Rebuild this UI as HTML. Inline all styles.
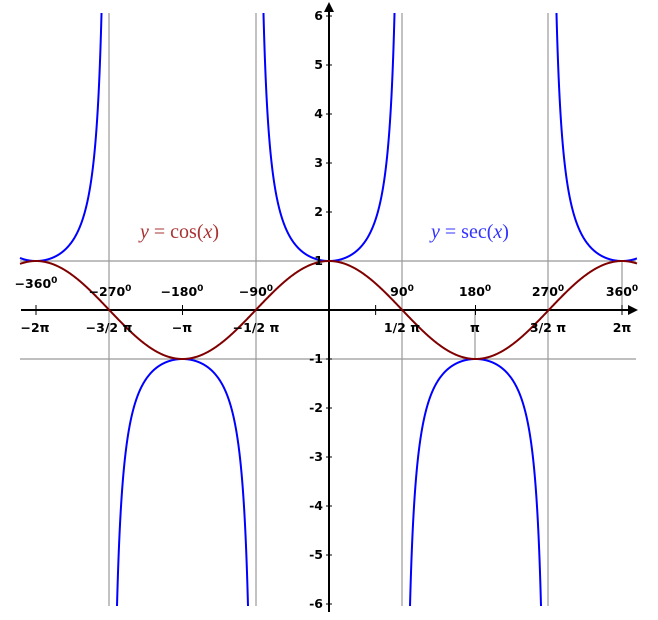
<!DOCTYPE html>
<html><head><meta charset="utf-8"><style>html,body{margin:0;padding:0;background:#fff;width:658px;height:620px;overflow:hidden}svg{display:block}</style></head>
<body>
<svg id="s" width="658" height="620" xmlns="http://www.w3.org/2000/svg" font-family="DejaVu Sans, Liberation Sans, sans-serif" font-weight="bold" font-size="12.5">
<defs><clipPath id="cp"><rect x="0" y="13" width="658" height="593"/></clipPath></defs>
<g stroke="#999" stroke-width="1.2">
<line x1="20" y1="261" x2="636" y2="261"/><line x1="20" y1="359" x2="636" y2="359"/>
<line x1="109" y1="13" x2="109" y2="606"/><line x1="256" y1="13" x2="256" y2="606"/>
<line x1="402" y1="13" x2="402" y2="606"/><line x1="548" y1="13" x2="548" y2="606"/>
<line x1="475" y1="310" x2="475" y2="359"/><line x1="622" y1="261" x2="622" y2="310"/>
</g>
<g stroke="#000" stroke-width="2"><line x1="21" y1="310" x2="630" y2="310"/><line x1="329" y1="8" x2="329" y2="612"/></g>
<polygon points="638,310 628,305 628,315" fill="#000"/>
<polygon points="329,2 324,12 334,12" fill="#000"/>
<g id="ticks" stroke="#000" stroke-width="1"></g>
<path id="sec" fill="none" stroke="#00f" stroke-width="2" clip-path="url(#cp)"/>
<path id="cos" fill="none" stroke="#800000" stroke-width="2"/>
<g text-anchor="middle">
<text x="36" y="288">−360<tspan dy="-5" font-size="9">0</tspan></text>
<text x="110" y="296">−270<tspan dy="-5" font-size="9">0</tspan></text>
<text x="182" y="296">−180<tspan dy="-5" font-size="9">0</tspan></text>
<text x="256" y="296">−90<tspan dy="-5" font-size="9">0</tspan></text>
<text x="402" y="296">90<tspan dy="-5" font-size="9">0</tspan></text>
<text x="475" y="296">180<tspan dy="-5" font-size="9">0</tspan></text>
<text x="548" y="296">270<tspan dy="-5" font-size="9">0</tspan></text>
<text x="622" y="296">360<tspan dy="-5" font-size="9">0</tspan></text>
<text x="35" y="332">−2π</text><text x="109" y="332">−3/2 π</text><text x="182" y="332">−π</text><text x="256" y="332">−1/2 π</text>
<text x="402" y="332">1/2 π</text><text x="475" y="332">π</text><text x="548" y="332">3/2 π</text><text x="622" y="332">2π</text>
</g>
<g id="yl" text-anchor="end"></g>
<text x="140" y="238" font-family="Liberation Serif, serif" font-weight="normal" font-size="20" fill="#a33"><tspan font-style="italic">y</tspan> = cos(<tspan font-style="italic">x</tspan>)</text>
<text x="431" y="238" font-family="Liberation Serif, serif" font-weight="normal" font-size="20" fill="#33f"><tspan font-style="italic">y</tspan> = sec(<tspan font-style="italic">x</tspan>)</text>
</svg>
<script>
var ox=329,oy=310,sx=146.5/Math.PI,sy=49;
var t='',l='';
for(var i=-6;i<=6;i++){if(!i)continue;var y=oy-i*sy;t+='<line x1="326" y1="'+y+'" x2="332" y2="'+y+'"/>';l+='<text x="323" y="'+(y+4)+'">'+(i<0?'-':'')+Math.abs(i)+'</text>';}
[-2*Math.PI,-Math.PI,1,Math.PI,2*Math.PI].forEach(function(v){var x=ox+v*sx;t+='<line x1="'+x+'" y1="305" x2="'+x+'" y2="315"/>';});
document.getElementById('ticks').innerHTML=t;document.getElementById('yl').innerHTML=l;
var c='',s='';
for(var px=20;px<=637;px+=0.5){var x=(px-ox)/sx;c+=(px==20?'M':'L')+px+' '+(oy-Math.cos(x)*sy).toFixed(2);}
var pen=false;
for(var px=20;px<=637;px+=0.1){var x=(px-ox)/sx;var v=1/Math.cos(x);var y=oy-v*sy;
if(y>=0&&y<=616){s+=(pen?'L':'M')+px.toFixed(2)+' '+y.toFixed(2);pen=true;}else pen=false;}
document.getElementById('cos').setAttribute('d',c);document.getElementById('sec').setAttribute('d',s);
</script>
</body></html>
